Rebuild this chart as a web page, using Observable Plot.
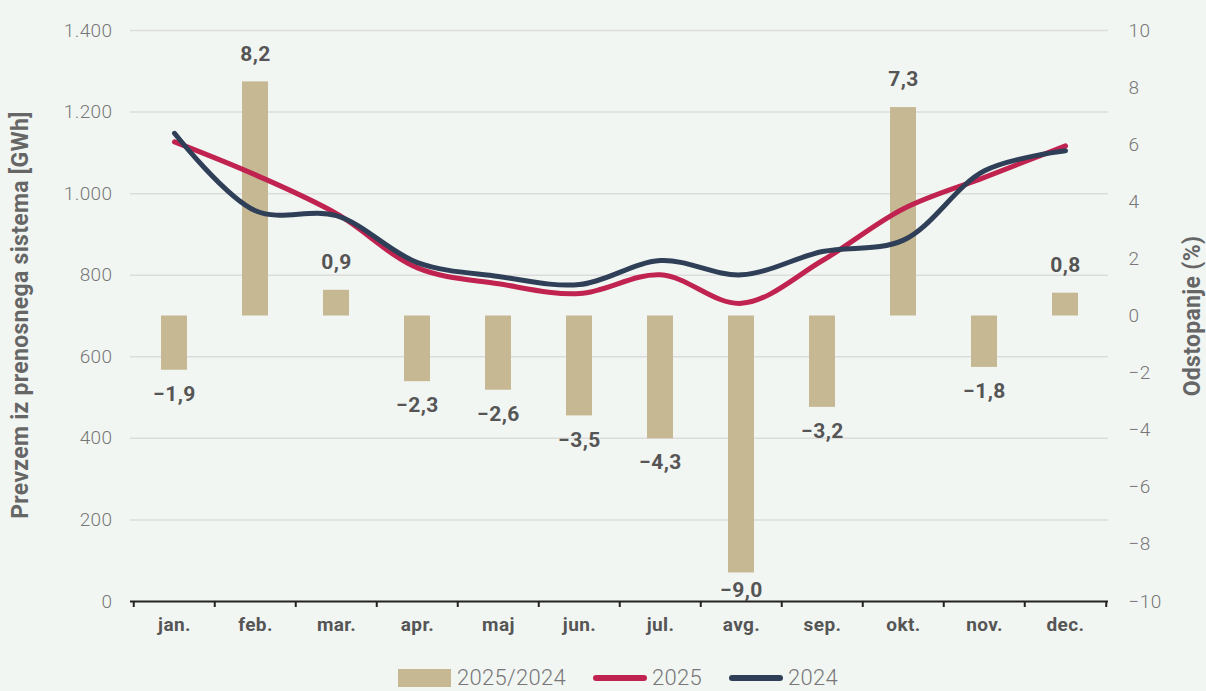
<!DOCTYPE html>
<html><head><meta charset="utf-8">
<script src="https://cdn.jsdelivr.net/npm/d3@7"></script>
<script src="https://cdn.jsdelivr.net/npm/@observablehq/plot@0.6"></script>
<style>
html,body{margin:0;padding:0;background:#f2f6f3;overflow:hidden;font-family:Roboto,"Noto Sans",sans-serif}
#wrap{position:relative;width:1206px;height:691px}
#chart{position:absolute;left:0;top:0}
#legend{position:absolute;left:398px;top:667px;height:22px;line-height:22px;display:flex;align-items:center;font-size:22px;font-weight:300;color:#777;white-space:nowrap;letter-spacing:0.3px}
#legend .sw{display:inline-block}
#legend .bar{width:53px;height:18px;background:#c6b893;margin-right:6px}
#legend .ln{width:54px;height:6px;border-radius:3px;margin-right:5px}
#legend .item{display:flex;align-items:center;margin-right:27px}
.title{position:absolute;width:0;height:0;}
.title span{position:absolute;left:0;top:0;transform:translate(-50%,-50%) rotate(-90deg);white-space:nowrap;font-size:23px;font-weight:700;color:#666;letter-spacing:0.3px}
</style></head><body><div id="wrap"><div id="chart"></div>
<div class="title" id="lt" style="left:20px;top:315px"><span></span></div>
<div class="title" id="rt" style="left:1192px;top:316px"><span></span></div>
<div id="legend"></div></div>
<script>
const months = ["jan.","feb.","mar.","apr.","maj","jun.","jul.","avg.","sep.","okt.","nov.","dec."];
const deviation = [-1.9, 8.2, 0.9, -2.3, -2.6, -3.5, -4.3, -9.0, -3.2, 7.3, -1.8, 0.8];
const gwh2025 = [1127, 1046, 951, 818, 779, 755, 801, 731, 836, 963, 1040, 1117];
const gwh2024 = [1148, 958, 946, 831, 797, 777, 836, 801, 858, 886, 1056, 1105];
const leftTicks = [0, 200, 400, 600, 800, 1000, 1200, 1400];
const rightTicks = [-10, -8, -6, -4, -2, 0, 2, 4, 6, 8, 10];
const seriesNames = ["2025/2024", "2025", "2024"];
const colors = {bar: "#c6b893", s2025: "#c0234f", s2024: "#2f3f57"};
const leftTitle = "Prevzem iz prenosnega sistema [GWh]";
const rightTitle = "Odstopanje (%)";

const leftDomain = [0, 1400];
const rightDomain = [-10, 10];
// map right-axis percent onto the left-axis (GWh) scale
const pToY = d3.scaleLinear().domain(rightDomain).range(leftDomain);

const loc = d3.formatLocale({decimal: ",", thousands: ".", grouping: [3], currency: ["", "€"], minus: "\u2212"});
const fmtLeft = loc.format(",d");
const fmtRight = loc.format("d");
const fmtVal = loc.format(".1f");

const data = months.map((m, i) => ({month: m, dev: deviation[i], v2025: gwh2025[i], v2024: gwh2024[i]}));

const W = 1206, H = 645, mL = 130, mR = 98, mT = 30, mB = 44;
const step = (W - mL - mR) / months.length;
const font = "Roboto, 'Noto Sans', sans-serif";
const tickStyle = {fontSize: 19, fontWeight: 300, fill: "#777"};
const valStyle = {fontSize: 21, fontWeight: 700, fill: "#555"};

const chart = Plot.plot({
  width: W, height: H,
  marginLeft: mL, marginRight: mR, marginTop: mT, marginBottom: mB,
  style: {background: "transparent", fontFamily: font, overflow: "visible", letterSpacing: "0.4px"},
  x: {domain: months, paddingInner: 0.68, paddingOuter: 0.34, axis: null},
  y: {domain: leftDomain, axis: null},
  marks: [
    Plot.ruleY(leftTicks.filter(t => t > 0), {stroke: "#dcdcdc", strokeWidth: 1.5}),
    Plot.text(leftTicks, {y: d => d, text: d => fmtLeft(d), frameAnchor: "left", dx: -18, textAnchor: "end", ...tickStyle}),
    Plot.text(rightTicks, {y: d => pToY(d), text: d => fmtRight(d), frameAnchor: "right", dx: 20, textAnchor: "start", ...tickStyle}),
    Plot.barY(data, {x: "month", y1: () => pToY(0), y2: d => pToY(d.dev), fill: colors.bar}),
    Plot.line(data, {x: "month", y: "v2025", stroke: colors.s2025, strokeWidth: 5, curve: "catmull-rom", strokeLinecap: "round"}),
    Plot.line(data, {x: "month", y: "v2024", stroke: colors.s2024, strokeWidth: 5, curve: "catmull-rom", strokeLinecap: "round"}),
    Plot.text(data.filter(d => d.dev >= 0), {x: "month", y: d => pToY(d.dev), text: d => fmtVal(d.dev), dy: -28, ...valStyle}),
    Plot.text(data.filter(d => d.dev < 0 && d.dev > -8), {x: "month", y: d => pToY(d.dev), text: d => fmtVal(d.dev), dy: 24, ...valStyle}),
    Plot.text(data.filter(d => d.dev <= -8), {x: "month", y: d => pToY(d.dev), text: d => fmtVal(d.dev), dy: 17, ...valStyle}),
    Plot.ruleY([0], {stroke: "#222", strokeWidth: 2}),
    Plot.ruleX(months, {x: d => d, y1: 0, y2: 0, dx: -step / 2, insetBottom: -6, stroke: "#222", strokeWidth: 2}),
    Plot.ruleX(months.slice(-1), {x: d => d, y1: 0, y2: 0, dx: step / 2, insetBottom: -6, stroke: "#222", strokeWidth: 2}),
    Plot.text(months, {x: d => d, text: d => d, frameAnchor: "bottom", dy: 29, fontSize: 19, fontWeight: 700, fill: "#555"})
  ]
});
document.getElementById("chart").appendChild(chart);
document.querySelector("#lt span").textContent = leftTitle;
document.querySelector("#rt span").textContent = rightTitle;

const legend = document.getElementById("legend");
const legendStyles = [{cls: "bar", color: colors.bar}, {cls: "ln", color: colors.s2025}, {cls: "ln", color: colors.s2024}];
seriesNames.forEach((name, i) => {
  const item = document.createElement("div");
  item.className = "item";
  const sw = document.createElement("span");
  sw.className = "sw " + legendStyles[i].cls;
  sw.style.background = legendStyles[i].color;
  const t = document.createElement("span");
  t.textContent = name;
  item.appendChild(sw); item.appendChild(t);
  legend.appendChild(item);
});
</script></body></html>
